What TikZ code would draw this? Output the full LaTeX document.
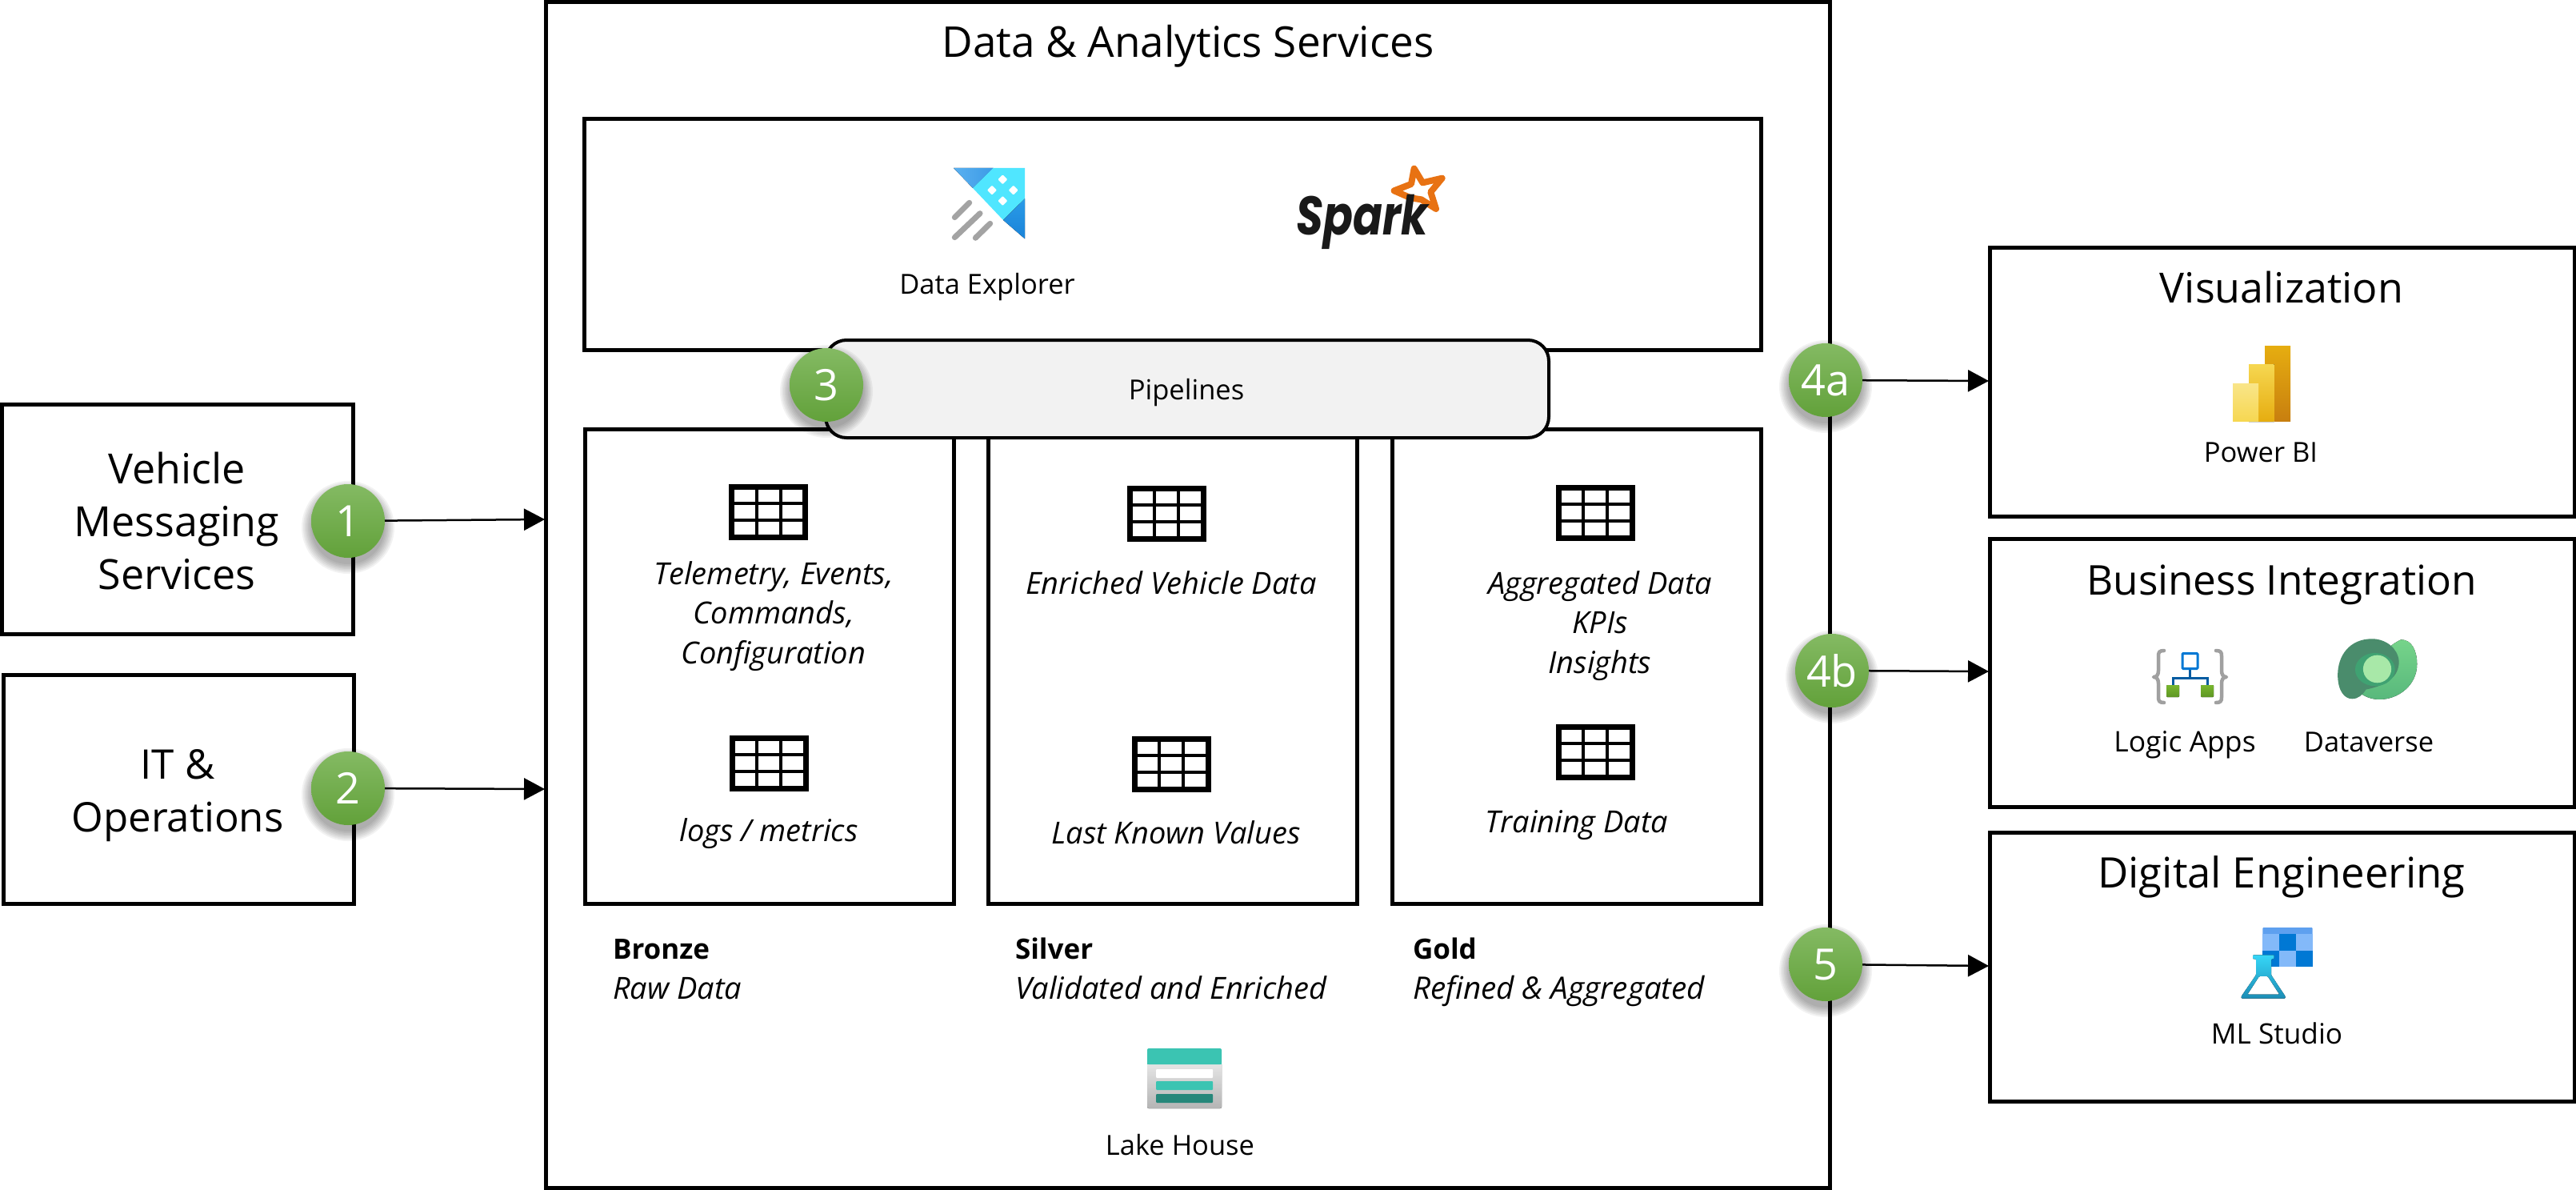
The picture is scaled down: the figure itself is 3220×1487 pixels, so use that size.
\documentclass[tikz,border=0pt]{standalone}
\usepackage{fontspec}
\usepackage{graphicx}
\setmainfont{Open Sans}
\newfontfamily\sparkfont{Poppins}
\usetikzlibrary{arrows.meta,shapes.geometric}
\definecolor{pipefill}{HTML}{F2F2F2}
\definecolor{bubtop}{HTML}{84BA63}
\definecolor{bubbot}{HTML}{62A13A}
\definecolor{deA}{HTML}{5AB0F0}
\definecolor{deB}{HTML}{3C9BE6}
\definecolor{deC}{HTML}{50E6FF}
\definecolor{deD}{HTML}{2A9BE8}
\definecolor{deE}{HTML}{1A83D8}
\definecolor{deG}{HTML}{A3A3A3}
\definecolor{sparkO}{HTML}{E87213}
\definecolor{pbA}{HTML}{E6AD10}
\definecolor{pbB}{HTML}{C87F0F}
\definecolor{pbC}{HTML}{F6D751}
\definecolor{pbD}{HTML}{F9E589}
\definecolor{laG}{HTML}{A0A0A0}
\definecolor{laB}{HTML}{005BA1}
\definecolor{laC}{HTML}{0078D4}
\definecolor{laD}{HTML}{78B62E}
\definecolor{laE}{HTML}{5E9624}
\definecolor{dvA}{HTML}{76D48A}
\definecolor{dvB}{HTML}{58B87C}
\definecolor{dvC}{HTML}{4A8C6C}
\definecolor{dvD}{HTML}{3FA272}
\definecolor{dvE}{HTML}{A8E8A8}
\definecolor{mlA}{HTML}{5EA0EF}
\definecolor{mlL}{HTML}{83B9F9}
\definecolor{mlD}{HTML}{0078D4}
\definecolor{mlF}{HTML}{36D6F7}
\definecolor{mlG}{HTML}{1C8DB5}
\definecolor{lhA}{HTML}{E6E6E6}
\definecolor{lhB}{HTML}{B4B4B4}
\definecolor{lhC}{HTML}{3BC4B2}
\definecolor{lhD}{HTML}{26877A}
\tikzset{
  boxn/.style={draw=black,line width=5pt,fill=white,inner sep=0pt,outer sep=0pt,minimum width=#1},
  txt/.style={inner sep=0pt,outer sep=0pt,font=\fontsize{34.5}{49.5}\selectfont,align=center},
  ital/.style={txt,font=\fontsize{38}{49.5}\selectfont\itshape},
  bold/.style={txt,font=\fontsize{35}{40}\selectfont\bfseries},
  head/.style={inner sep=0pt,outer sep=0pt,font=\fontsize{52}{66}\selectfont,align=center},
  bubble/.style={circle,minimum size=92pt,inner sep=0pt,outer sep=0pt,top color=bubtop,bottom color=bubbot,text=white,font=\fontsize{54}{54}\selectfont},
  conn/.style={draw=black,line width=2.5pt,-{Triangle[length=26pt,width=27pt]},shorten >=0pt},
}
\newcommand{\bub}[4]{%
  \foreach \rr in {58,56,...,46}{\fill[black,opacity=.05] (#2,#3+8) circle[radius=\rr];}
  \node[bubble] (#1) at (#2,#3) {#4};}
\newcommand{\tabicon}[2]{%
  \begin{scope}[shift={(#1,#2)}]
    \draw[black,line width=7pt,fill=white] (-46,-31.5) rectangle (46,31.5);
    \draw[black,line width=4pt] (-15,-31) -- (-15,31) (15,-31) -- (15,31) (-46,-11) -- (46,-11) (-46,10) -- (46,10);
  \end{scope}}
\begin{document}
\begin{tikzpicture}[x=1pt,y=-1pt]
\useasboundingbox (0,0) rectangle (3220,1487);
\fill[white] (0,0) rectangle (3220,1487);

% --- boxes
\node[boxn=1605pt,minimum height=1482pt,anchor=north west] (main) at (682.5,2.5) {};
\node[boxn=1471pt,minimum height=289pt,anchor=north west] (engines) at (730.5,148.5) {};
\node[boxn=461pt,minimum height=593pt,anchor=north west] (bronze) at (731,536) {};
\node[boxn=461pt,minimum height=593pt,anchor=north west] (silver) at (1235,536) {};
\node[boxn=461pt,minimum height=593pt,anchor=north west] (gold) at (1740,536) {};
\node[draw=black,line width=4pt,fill=pipefill,rounded corners=26pt,minimum width=904pt,minimum height=122pt,inner sep=0pt,anchor=north west] (pipe) at (1030,423) {};
\node[boxn=439pt,minimum height=287pt,anchor=north west] (vehicle) at (2.5,505) {};
\node[boxn=438pt,minimum height=286pt,anchor=north west] (it) at (4,843) {};
\node[boxn=731pt,minimum height=335pt,anchor=north west] (viz) at (2487,310) {};
\node[boxn=731pt,minimum height=335pt,anchor=north west] (biz) at (2487,673) {};
\node[boxn=731pt,minimum height=336pt,anchor=north west] (dig) at (2487,1040) {};

% --- heads
\node[head,anchor=base,font=\fontsize{53}{66}\selectfont] (ttitle) at (1485,72) {Data \& Analytics Services};
\node[head] (tveh) at (221,651) {Vehicle\\Messaging\\Services};
\node[head,font=\fontsize{51}{66}\selectfont] (tit) at (222,994) {IT \&\\Operations};
\node[head,anchor=base] (tviz) at (2852,379) {Visualization};
\node[head,anchor=base,font=\fontsize{51.3}{66}\selectfont] (tbiz) at (2852,743) {Business Integration};
\node[head,anchor=base,font=\fontsize{52.6}{66}\selectfont] (tdig) at (2852,1109) {Digital Engineering};

% --- plain labels
\node[txt,anchor=base] (tde) at (1234,367) {Data Explorer};
\node[txt,anchor=base] (tpipe) at (1483,499) {Pipelines};
\node[txt,anchor=base] (tpbi) at (2826,577) {Power BI};
\node[txt,anchor=base,font=\fontsize{35.5}{49.5}\selectfont] (tla) at (2731,939) {Logic Apps};
\node[txt,anchor=base] (tdv) at (2961,939) {Dataverse};
\node[txt,anchor=base,font=\fontsize{35.2}{49.5}\selectfont] (tml) at (2846,1304) {ML Studio};
\node[txt,anchor=base] (tlh) at (1475,1443) {Lake House};

% --- layer contents
\node[ital] (t1) at (967,770) {Telemetry, Events,\\Commands,\\Configuration};
\node[ital,anchor=base] (t2) at (961,1051) {logs / metrics};
\node[ital,anchor=base] (t3) at (1464,742) {Enriched Vehicle Data};
\node[ital,anchor=base] (t4) at (1470,1054) {Last Known Values};
\node[ital] (t5) at (2000,782) {Aggregated Data\\KPIs\\Insights};
\node[ital,anchor=base] (t6) at (1971,1040) {Training Data};

\node[bold,anchor=base west] (l1) at (766,1198) {Bronze};
\node[ital,anchor=base west] (l2) at (766,1248) {Raw Data};
\node[bold,anchor=base west] (l3) at (1269,1198) {Silver};
\node[ital,anchor=base west] (l4) at (1269,1248) {Validated and Enriched};
\node[bold,anchor=base west] (l5) at (1766,1198) {Gold};
\node[ital,anchor=base west,font=\fontsize{38.6}{49.5}\selectfont\itshape] (l6) at (1766,1248) {Refined \& Aggregated};

% --- table icons
\tabicon{960.5}{640}
\tabicon{961}{954}
\tabicon{1458}{642}
\tabicon{1464}{955}
\tabicon{1994}{641}
\tabicon{1994}{940}

% --- Data Explorer icon (zoom coordinates)
\begin{scope}[shift={(1170,190)},x=0.3333pt,y=-0.3333pt]
  \fill[left color=deA,right color=deB] (66,60) -- (215,60) -- (138,135) -- cycle;
  \fill[deC] (215,60) -- (333,60) -- (333,175) -- (252,255) -- (138,135) -- cycle;
  \fill[top color=deD,bottom color=deE] (333,175) -- (333,325) -- (252,255) -- cycle;
  \foreach \dx/\dy in {250/103,210/143,290/143,250/183}{
    \fill[white,rounded corners=1pt] (\dx-18,\dy) -- (\dx,\dy-18) -- (\dx+18,\dy) -- (\dx,\dy+18) -- cycle;}
  \draw[line width=7pt,color=deG,line cap=round] (70,245) -- (125,190) (70,320) -- (165,230) (148,322) -- (203,268);
\end{scope}

% --- Spark logo
\begin{scope}[shift={(1600,190)},x=0.3333pt,y=-0.3333pt]
  \draw[line width=8pt,draw=sparkO,line join=round,fill=white]
    (503,62) -- (535,115) -- (608,98) -- (565,150) -- (585,213) -- (530,178) -- (490,172) -- (428,145) -- (492,120) -- cycle;
  \node[inner sep=0pt,outer sep=0pt,anchor=base west,font={\sparkfont\fontsize{68}{68}\selectfont\bfseries\itshape},text=black!90] (tspark) at (62,310) {\scalebox{0.8}[1]{Spark}};
\end{scope}

% --- Power BI icon
\fill[top color=pbA,bottom color=pbB] (2831,432) rectangle (2863,526);
\fill[black!20] (2811,526) rectangle (2842.5,528);
\fill[top color=pbC,bottom color=pbA] (2811,455) rectangle (2842.5,526);
\fill[top color=pbD,bottom color=pbC] (2791,479) rectangle (2823,526);

% --- Logic Apps icon
\draw[line width=4.5pt,draw=laG,line cap=round,line join=round]
  (2705,813) .. controls (2699,813) and (2698,815) .. (2698,820) -- (2698,838)
  .. controls (2698,843) and (2696,846) .. (2692,846)
  .. controls (2696,846) and (2698,849) .. (2698,854) -- (2698,871)
  .. controls (2698,876) and (2699,878) .. (2705,878)
  (2770,813) .. controls (2776,813) and (2777,815) .. (2777,820) -- (2777,838)
  .. controls (2777,843) and (2779,846) .. (2783,846)
  .. controls (2779,846) and (2777,849) .. (2777,854) -- (2777,871)
  .. controls (2777,876) and (2776,878) .. (2770,878);
\draw[line width=3pt,draw=laB] (2737.5,837) -- (2737.5,847) (2716,856) -- (2716,847) -- (2759,847) -- (2759,856);
\draw[line width=3pt,draw=laC,fill=white,rounded corners=1pt] (2728,816.5) rectangle (2747,835.5);
\fill[top color=laD,bottom color=laE,rounded corners=1pt] (2708,856) rectangle (2724,871);
\fill[top color=laD,bottom color=laE,rounded corners=1pt] (2751,856) rectangle (2767,871);

% --- Dataverse icon
\begin{scope}[shift={(2500,380)},x=0.3827pt,y=-0.3333pt]
  \fill[top color=dvA,bottom color=dvB]
    (1310,1258) .. controls (1345,1258) and (1362,1300) .. (1362,1350)
    .. controls (1362,1430) and (1300,1482) .. (1240,1482)
    .. controls (1210,1482) and (1190,1470) .. (1172,1455)
    .. controls (1210,1400) and (1230,1300) .. (1310,1258) -- cycle;
  \fill[dvC]
    (1215,1255) .. controls (1140,1255) and (1103,1320) .. (1103,1390)
    .. controls (1103,1450) and (1125,1480) .. (1150,1480)
    .. controls (1170,1480) and (1185,1465) .. (1195,1445)
    .. controls (1260,1430) and (1303,1400) .. (1303,1340)
    .. controls (1300,1290) and (1260,1255) .. (1215,1255) -- cycle;
  \fill[dvD] (1225,1370) ellipse[x radius=65,y radius=62];
  \fill[dvE] (1232,1368) ellipse[x radius=46,y radius=52];
\end{scope}

% --- ML Studio icon
\fill[mlA,rounded corners=1pt] (2828.3,1159) rectangle (2890.7,1168);
\foreach \cx/\cy/\cc in {2828.3/1167.3/mlL,2849/1167.3/mlD,2870/1167.3/mlL,2828.3/1187.7/mlD,2849/1187.7/mlL,2870/1187.7/mlD}{
  \fill[\cc] (\cx,\cy) rectangle +(20.7,20.6);}
\begin{scope}[shift={(2500,1000)},x=0.3333pt,y=-0.3333pt]
  \fill[top color=mlF,bottom color=mlG,even odd rule,rounded corners=1pt]
    (948,580) -- (1028,580) -- (1028,595) -- (1017,595) -- (1017,655) -- (1070,735) -- (1070,743) -- (905,743) -- (905,735) -- (960,655) -- (960,595) -- (948,595) -- cycle
    (972,660) -- (928,728) -- (1048,728) -- (1004,660) -- cycle;
\end{scope}

% --- Lake House icon
\fill[top color=lhA,bottom color=lhB,rounded corners=2pt] (1434,1328) rectangle (1527,1385);
\fill[lhC,rounded corners=2pt] (1434,1310) rectangle (1527,1330);
\fill[lhC] (1434,1322) rectangle (1527,1330);
\fill[white,rounded corners=1pt] (1445,1336) rectangle (1516,1347);
\fill[lhC,rounded corners=1pt] (1445,1351) rectangle (1516,1362);
\fill[lhD,rounded corners=1pt] (1445,1367) rectangle (1516,1378);

% --- arrow ends
\coordinate (e1) at (681,649);
\coordinate (e2) at (681,986);
\coordinate (e4a) at (2486,476);
\coordinate (e4b) at (2486,839);
\coordinate (e5) at (2486,1207);

% --- numbered circles
\bub{c1}{435}{651}{1}
\bub{c2}{435}{985}{2}
\bub{c3}{1033}{481}{3}
\bub{c4a}{2282}{475}{4a}
\bub{c4b}{2290}{838}{4b}
\bub{c5}{2282}{1205}{5}

% --- connectors
\draw[conn] (c1) -- (e1);
\draw[conn] (c2) -- (e2);
\draw[conn] (c4a) -- (e4a);
\draw[conn] (c4b) -- (e4b);
\draw[conn] (c5) -- (e5);
\end{tikzpicture}
\end{document}
